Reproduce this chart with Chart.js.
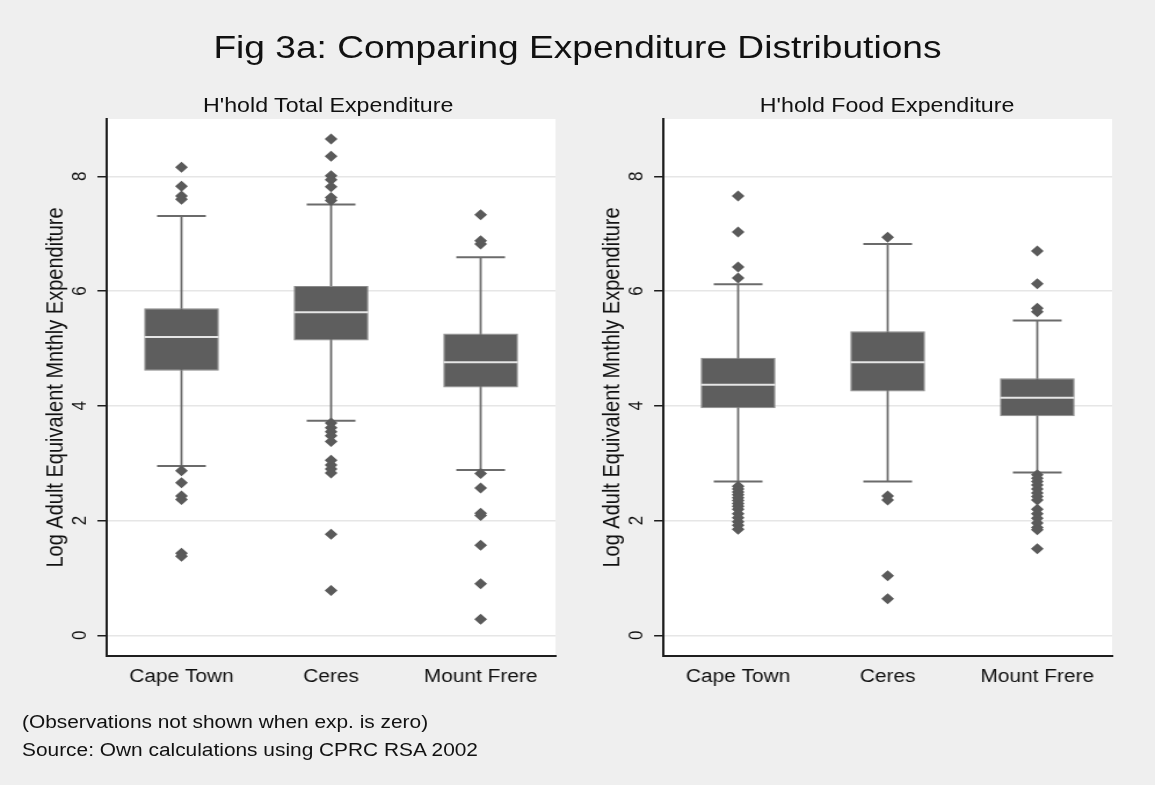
<!DOCTYPE html>
<html>
<head>
<meta charset="utf-8">
<script src="https://cdn.jsdelivr.net/npm/chart.js@4.4.1/dist/chart.umd.min.js"></script>
<style>
  html, body { margin: 0; padding: 0; background: #efefef; overflow: hidden; }
  #stage {
    position: relative; width: 996px; height: 785px;
    transform: scaleX(1.1596); transform-origin: 0 0;
    font-family: "Liberation Sans", Arial, sans-serif; color: #111;
  }
  .txt { position: absolute; white-space: nowrap; }
  #title { left: 0; width: 996px; top: 31px; text-align: center; font-size: 32px; line-height: 32px; }
  .sub { width: 400px; text-align: center; font-size: 20px; line-height: 20px; top: 95px; }
  .note { left: 19px; font-size: 18px; line-height: 18px; }
  .panel { position: absolute; top: 110px; width: 498px; height: 590px; }
</style>
</head>
<body>
<div id="stage">
  <div id="title" class="txt">Fig 3a: Comparing Expenditure Distributions</div>
  <div class="txt sub" style="left:83px">H'hold Total Expenditure</div>
  <div class="txt sub" style="left:565px">H'hold Food Expenditure</div>
  <div class="panel" style="left:0"><canvas id="totalChart" width="498" height="590"></canvas></div>
  <div class="panel" style="left:498px"><canvas id="foodChart" width="498" height="590"></canvas></div>
  <div class="txt note" style="top:713px">(Observations not shown when exp. is zero)</div>
  <div class="txt note" style="top:741px">Source: Own calculations using CPRC RSA 2002</div>
</div>
<script>
// Survey sites
const regions = ['Cape Town', 'Ceres', 'Mount Frere'];
const yTicks = [0, 2, 4, 6, 8];
const yTitle = 'Log Adult Equivalent Mnthly Expenditure';

// Household total expenditure: box-plot summaries per site
const totalLowerWhisker = [2.95, 3.74, 2.88];
const totalQ1 = [4.61, 5.14, 4.32];
const totalMedian = [5.20, 5.63, 4.76];
const totalQ3 = [5.70, 6.09, 5.26];
const totalUpperWhisker = [7.31, 7.51, 6.59];
const totalOutliersCapeTown = [8.16, 7.83, 7.66, 7.60, 2.87, 2.66, 2.43, 2.37, 1.43, 1.38];
const totalOutliersCeres = [8.65, 8.35, 8.01, 7.94, 7.82, 7.63, 7.58, 3.70, 3.62, 3.55, 3.48, 3.38, 3.05, 2.97, 2.90, 2.83, 1.76, 0.78];
const totalOutliersMountFrere = [7.33, 6.88, 6.82, 2.82, 2.57, 2.13, 2.09, 1.57, 0.90, 0.28];

// Household food expenditure: box-plot summaries per site
const foodLowerWhisker = [2.68, 2.68, 2.84];
const foodQ1 = [3.96, 4.25, 3.82];
const foodMedian = [4.37, 4.76, 4.14];
const foodQ3 = [4.84, 5.30, 4.48];
const foodUpperWhisker = [6.12, 6.82, 5.49];
const foodOutliersCapeTown = [7.66, 7.03, 6.42, 6.23, 2.60, 2.55, 2.50, 2.45, 2.40, 2.35, 2.30, 2.25, 2.20, 2.12, 2.05, 1.98, 1.92, 1.85];
const foodOutliersCeres = [6.94, 2.43, 2.36, 1.04, 0.64];
const foodOutliersMountFrere = [6.70, 6.13, 5.70, 5.64, 2.80, 2.74, 2.68, 2.62, 2.55, 2.48, 2.42, 2.36, 2.20, 2.12, 2.04, 1.96, 1.88, 1.84, 1.51];

const FONT = '"Liberation Sans", Arial, sans-serif';
const INK = '#111111';
const BOX = '#5e5e5e';
const WHISKER = '#6b6b6b';

// White plotting region behind the marks
const plotBackground = {
  id: 'plotBackground',
  beforeDraw(chart) {
    const a = chart.chartArea, ctx = chart.ctx;
    ctx.save();
    ctx.fillStyle = '#ffffff';
    ctx.fillRect(a.left, a.top, a.right - a.left, a.bottom - a.top);
    ctx.restore();
  }
};

// Vertical y tick labels, placed on the scale's own tick positions
const verticalTickLabels = {
  id: 'verticalTickLabels',
  afterDraw(chart, args, opts) {
    const s = chart.scales.y, ctx = chart.ctx;
    ctx.save();
    ctx.font = opts.size + 'px ' + FONT;
    ctx.fillStyle = INK;
    ctx.textAlign = 'center';
    ctx.textBaseline = 'middle';
    s.ticks.forEach(t => {
      const y = s.getPixelForValue(t.value);
      ctx.save();
      ctx.translate(s.right - opts.gap, y);
      ctx.rotate(-Math.PI / 2);
      ctx.fillText(String(t.value), 0, 0);
      ctx.restore();
    });
    ctx.restore();
  }
};

function outlierPoints(lists) {
  return lists.flatMap((vals, i) => vals.map(v => ({ x: regions[i], y: v })));
}

function makeBoxChart(canvasId, s, layout) {
  return new Chart(document.getElementById(canvasId), {
    type: 'bar',
    data: {
      labels: regions,
      datasets: [
        { // whisker stems
          type: 'bar', order: 4, grouped: false,
          data: regions.map((r, i) => [s.low[i], s.high[i]]),
          backgroundColor: WHISKER, borderWidth: 0, maxBarThickness: 1.8
        },
        { // inter-quartile boxes
          type: 'bar', order: 3,
          data: regions.map((r, i) => [s.q1[i], s.q3[i]]),
          backgroundColor: BOX, borderColor: '#8a8a8a', borderWidth: 1, borderSkipped: false,
          barPercentage: 0.5, categoryPercentage: 1.0
        },
        { // medians
          type: 'line', order: 2, showLine: false, data: s.median,
          pointStyle: 'line', pointRadius: 32, pointBorderWidth: 2,
          pointBorderColor: '#e6e6e6', pointBackgroundColor: '#e6e6e6'
        },
        { // upper whisker caps
          type: 'line', order: 1, showLine: false, data: s.high,
          pointStyle: 'line', pointRadius: 21, pointBorderWidth: 2,
          pointBorderColor: WHISKER, pointBackgroundColor: WHISKER
        },
        { // lower whisker caps
          type: 'line', order: 1, showLine: false, data: s.low,
          pointStyle: 'line', pointRadius: 21, pointBorderWidth: 2,
          pointBorderColor: WHISKER, pointBackgroundColor: WHISKER
        },
        { // outside values
          type: 'line', order: 0, showLine: false, data: outlierPoints(s.outliers),
          pointStyle: 'rectRot', pointRadius: 5.5, pointBorderWidth: 0,
          pointBackgroundColor: '#5a5a5a', pointBorderColor: '#5a5a5a'
        }
      ]
    },
    options: {
      responsive: false,
      animation: false,
      events: [],
      layout: { autoPadding: false, padding: { left: 0, right: layout.padRight, top: 9, bottom: 0 } },
      plugins: {
        legend: { display: false },
        tooltip: { enabled: false },
        verticalTickLabels: { size: 17, gap: 23 }
      },
      scales: {
        x: {
          type: 'category',
          grid: { display: false, drawTicks: false },
          border: { display: true, color: '#1e1e1e', width: 2 },
          ticks: { color: INK, font: { family: FONT, size: 18 }, padding: 10, maxRotation: 0 },
          afterFit(scale) { scale.height = 44; }
        },
        y: {
          type: 'linear',
          min: -0.36, max: 9.0,
          afterBuildTicks(scale) { scale.ticks = yTicks.map(v => ({ value: v })); },
          ticks: { display: false },
          grid: { color: '#e6e6e6', lineWidth: 1.5, tickColor: '#1e1e1e', tickLength: 8, tickWidth: 1.5 },
          border: { display: true, color: '#1e1e1e', width: 2 },
          title: {
            display: true, text: yTitle, color: INK,
            font: { family: FONT, size: 20 },
            padding: { top: layout.titlePad, bottom: 0 }
          },
          afterFit(scale) { scale.width = layout.axisWidth; }
        }
      }
    },
    plugins: [plotBackground, verticalTickLabels]
  });
}

makeBoxChart('totalChart', {
  low: totalLowerWhisker, q1: totalQ1, median: totalMedian, q3: totalQ3, high: totalUpperWhisker,
  outliers: [totalOutliersCapeTown, totalOutliersCeres, totalOutliersMountFrere]
}, { axisWidth: 92, padRight: 19, titlePad: 36 });

makeBoxChart('foodChart', {
  low: foodLowerWhisker, q1: foodQ1, median: foodMedian, q3: foodQ3, high: foodUpperWhisker,
  outliers: [foodOutliersCapeTown, foodOutliersCeres, foodOutliersMountFrere]
}, { axisWidth: 74, padRight: 37, titlePad: 18 });
</script>
</body>
</html>
